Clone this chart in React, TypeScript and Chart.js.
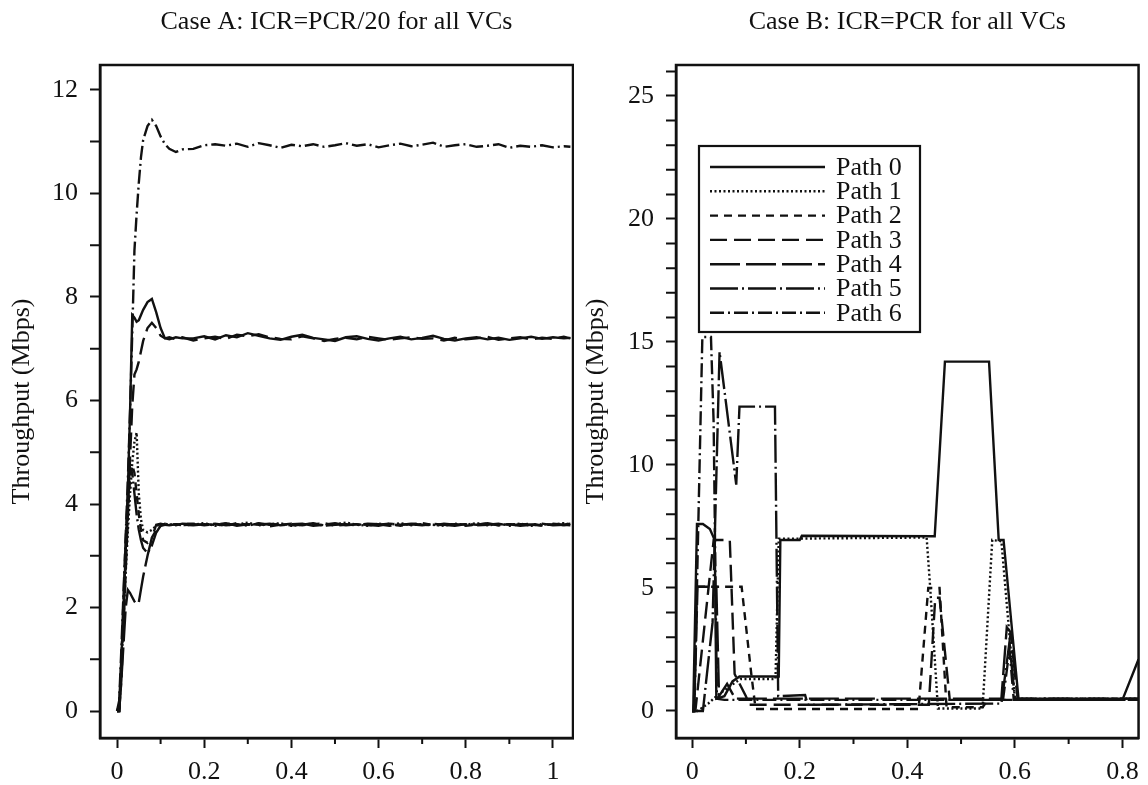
import React, { useEffect, useRef } from "react";
import { Chart, registerables } from "chart.js";

Chart.register(...registerables);

const SERIF = "'Liberation Serif', 'Times New Roman', Times, serif";
const INK = "#111111";

const pathNames = ["Path 0", "Path 1", "Path 2", "Path 3", "Path 4", "Path 5", "Path 6"];
const pathDashes: number[][] = [[], [2, 2.5], [8, 6], [17, 7], [30, 6], [28, 4, 2, 4], [14, 4, 2, 4]];

// ---------------- Case A ----------------
const titleA = "Case A: ICR=PCR/20 for all VCs";
const timeA = [0, 0.005, 0.01, 0.015, 0.02, 0.025, 0.03, 0.035, 0.04, 0.045, 0.05, 0.055, 0.06, 0.07, 0.08, 0.09, 0.1, 0.11, 0.12, 0.135, 0.15,
  0.175, 0.2, 0.225, 0.25, 0.275, 0.3, 0.325, 0.35, 0.375, 0.4, 0.425, 0.45, 0.475, 0.5, 0.525, 0.55, 0.575, 0.6, 0.625, 0.65, 0.675, 0.7, 0.725, 0.75, 0.775, 0.8, 0.825, 0.85, 0.875, 0.9, 0.925, 0.95, 0.975, 1.0, 1.025, 1.04];
const a0 = [0, 0.1, 1.0, 2.0, 3.1, 4.3, 5.8, 7.65, 7.6, 7.52, 7.55, 7.65, 7.75, 7.9, 7.96, 7.7, 7.4, 7.2, 7.18, 7.22, 7.2,
  7.2, 7.24, 7.18, 7.26, 7.22, 7.3, 7.25, 7.2, 7.17, 7.23, 7.27, 7.21, 7.18, 7.15, 7.22, 7.24, 7.19, 7.16, 7.2, 7.23, 7.18, 7.21, 7.25, 7.19, 7.16, 7.2, 7.22, 7.18, 7.21, 7.17, 7.2, 7.23, 7.19, 7.22, 7.2, 7.21];
const a1 = [0, 0, 0.8, 1.8, 2.7, 3.5, 4.2, 4.8, 5.2, 5.38, 4.2, 3.7, 3.5, 3.45, 3.5, 3.58, 3.6, 3.62, 3.6, 3.61, 3.59,
  3.6, 3.63, 3.58, 3.62, 3.6, 3.64, 3.59, 3.61, 3.63, 3.58, 3.6, 3.62, 3.59, 3.61, 3.64, 3.6, 3.58, 3.62, 3.6, 3.63, 3.59, 3.61, 3.6, 3.58, 3.62, 3.6, 3.63, 3.59, 3.61, 3.6, 3.62, 3.58, 3.61, 3.6, 3.63, 3.6];
const a2 = [0, 0, 0.9, 1.9, 2.9, 3.8, 4.5, 4.75, 4.6, 4.2, 3.8, 3.5, 3.3, 3.25, 3.35, 3.5, 3.58, 3.6, 3.62, 3.6, 3.61,
  3.62, 3.59, 3.61, 3.58, 3.63, 3.6, 3.62, 3.57, 3.6, 3.62, 3.59, 3.61, 3.63, 3.58, 3.6, 3.61, 3.59, 3.6, 3.62, 3.58, 3.61, 3.63, 3.59, 3.6, 3.61, 3.58, 3.6, 3.62, 3.59, 3.61, 3.6, 3.62, 3.58, 3.61, 3.59, 3.61];
const a3 = [0, 0, 0.6, 1.6, 2.7, 3.8, 4.9, 5.9, 6.5, 6.6, 6.75, 6.95, 7.15, 7.4, 7.5, 7.4, 7.25, 7.2, 7.22, 7.18, 7.22,
  7.16, 7.2, 7.23, 7.19, 7.27, 7.24, 7.28, 7.22, 7.19, 7.18, 7.24, 7.2, 7.15, 7.19, 7.21, 7.18, 7.23, 7.2, 7.17, 7.2, 7.22, 7.19, 7.2, 7.16, 7.21, 7.18, 7.2, 7.23, 7.17, 7.2, 7.22, 7.18, 7.21, 7.19, 7.23, 7.2];
const a4 = [0, 0, 0.6, 1.3, 2.0, 2.34, 2.28, 2.2, 2.12, 2.06, 2.1, 2.35, 2.6, 3.0, 3.35, 3.6, 3.62, 3.6, 3.59, 3.61, 3.6,
  3.59, 3.61, 3.6, 3.63, 3.58, 3.61, 3.6, 3.62, 3.59, 3.61, 3.62, 3.58, 3.6, 3.63, 3.59, 3.61, 3.6, 3.58, 3.62, 3.6, 3.61, 3.59, 3.62, 3.6, 3.58, 3.61, 3.6, 3.63, 3.59, 3.61, 3.58, 3.6, 3.62, 3.59, 3.6, 3.62];
const a5 = [0, 0, 1.0, 2.2, 3.3, 4.2, 4.7, 4.6, 4.2, 3.8, 3.5, 3.3, 3.15, 3.05, 3.2, 3.45, 3.58, 3.62, 3.6, 3.59, 3.62,
  3.61, 3.6, 3.62, 3.59, 3.61, 3.58, 3.63, 3.6, 3.61, 3.59, 3.6, 3.63, 3.58, 3.6, 3.61, 3.59, 3.62, 3.61, 3.58, 3.6, 3.62, 3.6, 3.59, 3.62, 3.6, 3.61, 3.59, 3.6, 3.62, 3.58, 3.61, 3.6, 3.59, 3.62, 3.6, 3.59];
const a6 = [0, 0.2, 1.2, 2.3, 3.4, 4.5, 5.8, 7.3, 8.9, 9.6, 10.2, 10.7, 11.03, 11.3, 11.42, 11.3, 11.1, 10.95, 10.86, 10.8, 10.85,
  10.86, 10.93, 10.95, 10.92, 10.96, 10.9, 10.97, 10.93, 10.88, 10.94, 10.91, 10.95, 10.9, 10.93, 10.97, 10.92, 10.95, 10.89, 10.93, 10.96, 10.91, 10.94, 10.98, 10.9, 10.93, 10.95, 10.9, 10.92, 10.95, 10.88, 10.92, 10.9, 10.93, 10.89, 10.91, 10.9];

const xTicksA = [0, 0.2, 0.4, 0.6, 0.8, 1];
const xTickLabelsA = ["0", "0.2", "0.4", "0.6", "0.8", "1"];
const xMinorA = [0.1, 0.3, 0.5, 0.7, 0.9];
const yTicksA = [0, 2, 4, 6, 8, 10, 12];
const yTickLabelsA = ["0", "2", "4", "6", "8", "10", "12"];
const yMinorA = [1, 3, 5, 7, 9, 11];

// ---------------- Case B ----------------
const titleB = "Case B: ICR=PCR for all VCs";
const b0x = [0, 0.002, 0.009, 0.02, 0.033, 0.042, 0.045, 0.06, 0.075, 0.088, 0.161, 0.164, 0.2, 0.204, 0.451, 0.47, 0.552, 0.57, 0.579, 0.607, 0.8, 0.83];
const b0y = [0, 0, 7.6, 7.6, 7.4, 6.95, 0.5, 0.6, 1.2, 1.4, 1.4, 6.95, 6.95, 7.12, 7.1, 14.2, 14.2, 6.95, 6.95, 0.45, 0.45, 2.1];
const b1x = [0, 0.01, 0.03, 0.045, 0.07, 0.09, 0.155, 0.161, 0.436, 0.442, 0.457, 0.54, 0.558, 0.575, 0.6, 0.83];
const b1y = [0, 0, 0.3, 0.6, 1.0, 1.3, 1.3, 7.0, 7.05, 5.2, 0.1, 0.1, 6.95, 6.9, 0.5, 0.5];
const b2x = [0, 0.003, 0.009, 0.092, 0.11, 0.118, 0.421, 0.439, 0.46, 0.473, 0.54, 0.55, 0.83];
const b2y = [0, 0, 5.05, 5.05, 1.5, 0.08, 0.08, 5.0, 5.0, 0.15, 0.15, 0.45, 0.45];
const b3x = [0, 0.006, 0.04, 0.07, 0.079, 0.1, 0.106, 0.44, 0.452, 0.46, 0.479, 0.83];
const b3y = [0, 0, 6.95, 6.95, 1.5, 0.6, 0.25, 0.25, 4.6, 4.6, 0.45, 0.45];
const b4x = [0, 0.004, 0.01, 0.045, 0.05, 0.065, 0.08, 0.575, 0.585, 0.592, 0.605, 0.83];
const b4y = [0, 0, 5.05, 5.05, 0.6, 1.1, 0.5, 0.5, 3.4, 3.2, 0.5, 0.5];
const b5x = [0, 0.02, 0.038, 0.051, 0.082, 0.088, 0.154, 0.16, 0.21, 0.215, 0.575, 0.59, 0.6, 0.83];
const b5y = [0, 0, 3.6, 14.6, 9.2, 12.37, 12.37, 0.6, 0.65, 0.25, 0.3, 2.8, 0.5, 0.5];
const b6x = [0, 0.004, 0.019, 0.035, 0.04, 0.046, 0.06, 0.578, 0.59, 0.598, 0.83];
const b6y = [0, 0, 15.2, 15.2, 11.7, 0.5, 0.45, 0.45, 2.5, 0.45, 0.45];

const xTicksB = [0, 0.2, 0.4, 0.6, 0.8];
const xTickLabelsB = ["0", "0.2", "0.4", "0.6", "0.8"];
const xMinorB = [0.1, 0.3, 0.5, 0.7];
const yTicksB = [0, 5, 10, 15, 20, 25];
const yTickLabelsB = ["0", "5", "10", "15", "20", "25"];
const yMinorB = [1, 2, 3, 4, 6, 7, 8, 9, 11, 12, 13, 14, 16, 17, 18, 19, 21, 22, 23, 24, 26];

const yAxisTitle = "Throughput (Mbps)";
const FS = 26;

// ---------------- plugins ----------------
const frameTicksPlugin = {
  id: "frameTicks",
  afterDatasetsDraw(chart: any, _args: any, opts: any) {
    const { ctx, chartArea: a, scales } = chart;
    const xs = scales.x;
    const ys = scales.y;
    ctx.save();
    ctx.strokeStyle = INK;
    ctx.lineWidth = 2;
    ctx.setLineDash([]);
    ctx.beginPath();
    for (const v of opts.xMinor) {
      const p = xs.getPixelForValue(v);
      ctx.moveTo(p, a.bottom);
      ctx.lineTo(p, a.bottom + opts.minorX);
    }
    for (const v of opts.yMinor) {
      const p = ys.getPixelForValue(v);
      if (p < a.top || p > a.bottom) continue;
      ctx.moveTo(a.left, p);
      ctx.lineTo(a.left - opts.minorY, p);
    }
    ctx.stroke();
    ctx.lineWidth = 2.5;
    ctx.strokeRect(a.left, a.top, a.right - a.left, a.bottom - a.top);
    ctx.restore();
  },
};

const pathLegendPlugin = {
  id: "pathLegend",
  afterDraw(chart: any, _args: any, opts: any) {
    if (!opts || !opts.show) return;
    const { ctx, chartArea: a } = chart;
    const bx = a.left + opts.dx;
    const by = a.top + opts.dy;
    ctx.save();
    ctx.fillStyle = "#ffffff";
    ctx.fillRect(bx, by, opts.w, opts.h);
    ctx.strokeStyle = INK;
    ctx.lineWidth = 2.2;
    ctx.setLineDash([]);
    ctx.strokeRect(bx, by, opts.w, opts.h);
    chart.data.datasets.forEach((ds: any, i: number) => {
      const cy = by + opts.firstRow + i * opts.rowGap;
      ctx.setLineDash(ds.borderDash || []);
      ctx.lineWidth = 2.4;
      ctx.strokeStyle = INK;
      ctx.beginPath();
      ctx.moveTo(bx + opts.lineX0, cy);
      ctx.lineTo(bx + opts.lineX1, cy);
      ctx.stroke();
      ctx.setLineDash([]);
      ctx.font = `${opts.fontSize}px ${SERIF}`;
      ctx.fillStyle = INK;
      ctx.textBaseline = "middle";
      ctx.textAlign = "left";
      ctx.fillText(ds.label, bx + opts.textX, cy + 1);
    });
    ctx.restore();
  },
};

function makeConfig(p: any) {
  const datasets = p.series.map((s: any, i: number) => ({
    label: pathNames[i],
    data: s.x.map((xv: number, k: number) => ({ x: xv, y: s.y[k] })),
    borderColor: INK,
    borderWidth: 2.4,
    borderDash: pathDashes[i],
    pointRadius: 0,
    fill: false,
    tension: 0,
  }));
  const tickFont = { family: SERIF, size: FS };
  return {
    type: "line",
    data: { datasets },
    options: {
      responsive: false,
      animation: false,
      events: [],
      layout: { padding: { left: 0, right: p.padRight, top: 0, bottom: 0 } },
      plugins: {
        legend: { display: false },
        tooltip: { enabled: false },
        title: {
          display: true,
          text: p.title,
          fullSize: false,
          color: INK,
          font: { family: SERIF, size: FS, weight: "normal" },
          padding: { top: 6.4, bottom: 65 - 6.4 - FS * 1.2 },
        },
        frameTicks: { xMinor: p.xMinor, yMinor: p.yMinor, minorX: 6, minorY: 10 },
        pathLegend: p.legend,
      },
      scales: {
        x: {
          type: "linear",
          min: p.xMin,
          max: p.xMax,
          afterFit: (s: any) => { s.height = 785 - p.bottom; },
          afterBuildTicks: (s: any) => { s.ticks = p.xTicks.map((v: number) => ({ value: v })); },
          ticks: {
            color: INK,
            font: tickFont,
            padding: 9,
            autoSkip: false,
            maxRotation: 0,
            callback: (v: number) => {
              const k = p.xTicks.findIndex((t: number) => Math.abs(t - v) < 1e-9);
              return k >= 0 ? p.xLabels[k] : "";
            },
          },
          grid: { drawOnChartArea: false, drawTicks: true, tickLength: 10, tickWidth: 2, tickColor: INK },
          border: { display: true, width: 2.5, color: INK },
        },
        y: {
          type: "linear",
          min: p.yMin,
          max: p.yMax,
          afterFit: (s: any) => { s.width = p.plotLeft; },
          afterBuildTicks: (s: any) => { s.ticks = p.yTicks.map((v: number) => ({ value: v })); },
          ticks: {
            color: INK,
            font: tickFont,
            padding: 12,
            autoSkip: false,
            callback: (v: number) => {
              const k = p.yTicks.findIndex((t: number) => Math.abs(t - v) < 1e-9);
              return k >= 0 ? p.yLabels[k] : "";
            },
          },
          title: {
            display: true,
            text: yAxisTitle,
            color: INK,
            font: { family: SERIF, size: FS },
            padding: { top: 6.4, bottom: 0 },
          },
          grid: { drawOnChartArea: false, drawTicks: true, tickLength: 10, tickWidth: 2, tickColor: INK },
          border: { display: true, width: 2.5, color: INK },
        },
      },
    },
    plugins: [frameTicksPlugin, pathLegendPlugin],
  };
}

export default function App() {
  const refA = useRef<HTMLCanvasElement>(null);
  const refB = useRef<HTMLCanvasElement>(null);

  useEffect(() => {
    const cfgA = makeConfig({
      title: titleA,
      series: [a0, a1, a2, a3, a4, a5, a6].map((y) => ({ x: timeA, y })),
      xMin: -0.039, xMax: 1.046, yMin: -0.52, yMax: 12.48,
      xTicks: xTicksA, xLabels: xTickLabelsA, xMinor: xMinorA,
      yTicks: yTicksA, yLabels: yTickLabelsA, yMinor: yMinorA,
      plotLeft: 100, padRight: 1, bottom: 738,
      legend: { show: false },
    });
    const cfgB = makeConfig({
      title: titleB,
      series: [
        { x: b0x, y: b0y }, { x: b1x, y: b1y }, { x: b2x, y: b2y }, { x: b3x, y: b3y },
        { x: b4x, y: b4y }, { x: b5x, y: b5y }, { x: b6x, y: b6y },
      ],
      xMin: -0.03, xMax: 0.83, yMin: -1.1, yMax: 26.26,
      xTicks: xTicksB, xLabels: xTickLabelsB, xMinor: xMinorB,
      yTicks: yTicksB, yLabels: yTickLabelsB, yMinor: yMinorB,
      plotLeft: 102, padRight: 3, bottom: 738,
      legend: { show: true, dx: 23, dy: 81, w: 221, h: 186, firstRow: 21, rowGap: 24.3, lineX0: 11, lineX1: 126, textX: 137, fontSize: FS },
    });
    const ca = new Chart(refA.current as HTMLCanvasElement, cfgA as any);
    const cb = new Chart(refB.current as HTMLCanvasElement, cfgB as any);
    return () => {
      ca.destroy();
      cb.destroy();
    };
  }, []);

  return (
    <div style={{ position: "fixed", left: 0, top: 0, width: 1148, height: 785, background: "#ffffff", overflow: "hidden" }}>
      <canvas ref={refA} width={574} height={785} style={{ position: "absolute", left: 0, top: 0 }} />
      <canvas ref={refB} width={574} height={785} style={{ position: "absolute", left: 574, top: 0 }} />
    </div>
  );
}
